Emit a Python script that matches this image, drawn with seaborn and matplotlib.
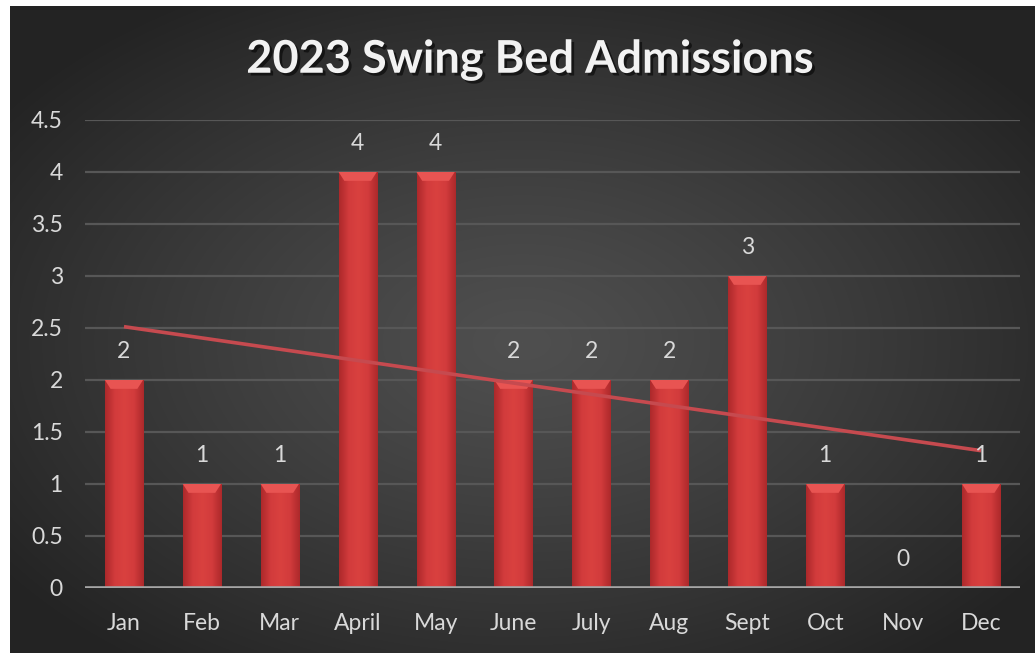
import numpy as np
import pandas as pd
import seaborn as sns
import matplotlib.pyplot as plt
from matplotlib import patheffects as pe
from matplotlib.patches import Polygon
from matplotlib.colors import LinearSegmentedColormap

# ---- data ----
months = ["Jan", "Feb", "Mar", "April", "May", "June",
          "July", "Aug", "Sept", "Oct", "Nov", "Dec"]
admissions = [2, 1, 1, 4, 4, 2, 2, 2, 3, 1, 0, 1]
y_ticks = [0, 0.5, 1, 1.5, 2, 2.5, 3, 3.5, 4, 4.5]
y_tick_labels = ["0", "0.5", "1", "1.5", "2", "2.5", "3", "3.5", "4", "4.5"]
title = "2023 Swing Bed Admissions"

df = pd.DataFrame({"month": months, "admissions": admissions})

sns.set_theme(style="dark")
plt.rcParams["font.family"] = ["Lato", "DejaVu Sans"]

W, H = 1035, 653
fig = plt.figure(figsize=(W / 100, H / 100), dpi=100)
fig.patch.set_facecolor("white")

# dark radial-gradient chart background
bg = fig.add_axes([10 / W, 0, 1 - 10 / W, 1 - 6 / H])
bg.axis("off")
gy, gx = np.mgrid[0:1:300j, 0:1:520j]
r = np.sqrt(((gx - 0.5) / 0.62) ** 2 + ((gy - 0.52) / 0.62) ** 2)
shade = 0.31 - 0.17 * np.clip(r, 0, 1) ** 1.2
bg.imshow(np.dstack([shade] * 3), aspect="auto", extent=[0, 1, 0, 1],
          interpolation="bicubic")
bg.set_xlim(0, 1)
bg.set_ylim(0, 1)

# plotting area
ax = fig.add_axes([85 / W, 1 - 588 / H, 935 / W, 468 / H])
ax.set_facecolor("none")

sns.barplot(data=df, x="month", y="admissions", color="#d43a3b",
            saturation=1, width=0.49, ax=ax, zorder=3)

# bevelled look on each bar: horizontal shading plus a lighter top facet
bar_cmap = LinearSegmentedColormap.from_list(
    "bar", ["#ad292b", "#d23b3c", "#d9413f", "#d23b3c", "#ad292b"])
grad = np.linspace(0, 1, 64).reshape(1, -1)
for p in list(ax.patches):
    x0, w, h = p.get_x(), p.get_width(), p.get_height()
    p.set_edgecolor("none")
    if h <= 0:
        continue
    im = ax.imshow(grad, cmap=bar_cmap, aspect="auto",
                   extent=[x0, x0 + w, 0, h], zorder=3.1)
    im.set_clip_path(p)
    inset = w * 0.15
    bev = 0.085
    ax.add_patch(Polygon([[x0, h], [x0 + w, h], [x0 + w - inset, h - bev],
                          [x0 + inset, h - bev]], closed=True,
                         facecolor="#e85452", edgecolor="none", zorder=3.2))

# linear trendline
xs = np.arange(len(admissions))
coef = np.polyfit(xs, admissions, 1)
ax.plot(xs, np.polyval(coef, xs), color="#c64a4f", lw=2.6, zorder=4,
        solid_capstyle="butt")

# data labels
for i, v in enumerate(admissions):
    ax.text(i, v + 0.27, f"{v}", ha="center", va="center",
            color="#d9d9d9", fontsize=16.5, zorder=5, clip_on=False)

ax.set_xlim(-0.5, len(months) - 0.5)
ax.set_ylim(0, 4.5)
ax.set_yticks(y_ticks)
ax.set_yticklabels(y_tick_labels)
ax.set_xlabel("")
ax.set_ylabel("")
for s in ax.spines.values():
    s.set_visible(False)
ax.yaxis.grid(True, color="#575757", lw=1.6, zorder=0)
ax.xaxis.grid(False)
ax.axhline(0, color="#a6a6a6", lw=2.6, zorder=3.5)
ax.tick_params(axis="y", length=0, pad=16, labelsize=16.5, labelcolor="#d9d9d9")
ax.tick_params(axis="x", length=0, pad=18, labelsize=16.5, labelcolor="#d9d9d9")

fig.text(530 / W, 1 - 60 / H, title, ha="center", va="center",
         fontsize=32.5, fontweight="bold", color="#f2f2f2",
         path_effects=[pe.withSimplePatchShadow(offset=(2, -2),
                                                shadow_rgbFace="black",
                                                alpha=0.55)])

fig.savefig("out.png", dpi=100, facecolor=fig.get_facecolor())
